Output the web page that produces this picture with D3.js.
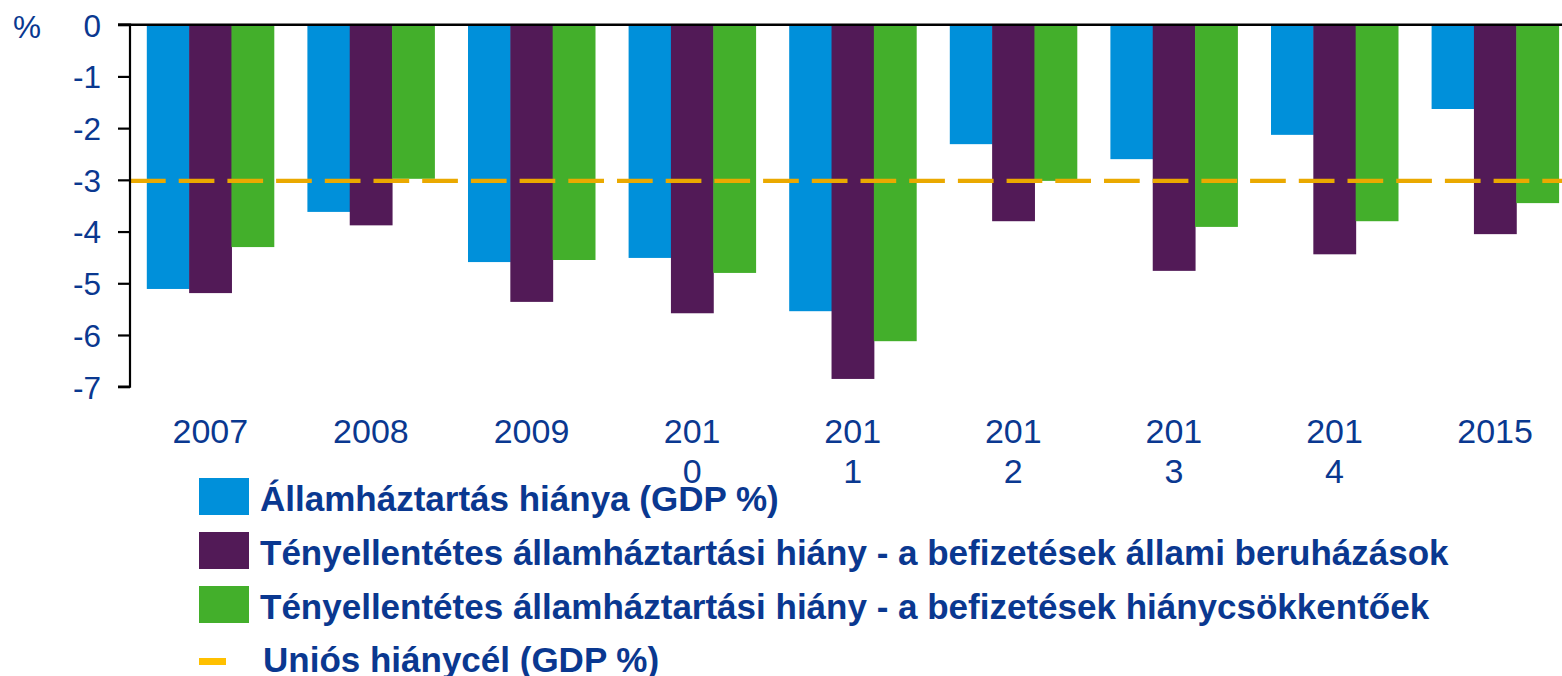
<!DOCTYPE html>
<html>
<head>
<meta charset="utf-8">
<script src="https://cdn.jsdelivr.net/npm/d3@7"></script>
<style>
  html, body { margin: 0; padding: 0; background: #fff; }
  svg { display: block; font-family: "Liberation Sans", Arial, sans-serif; }
</style>
</head>
<body>
<svg id="chart" width="1562" height="676"></svg>
<script>
// ---- data ----
const years = ["2007", "2008", "2009", "2010", "2011", "2012", "2013", "2014", "2015"];
const tickLabelLines = [["2007"], ["2008"], ["2009"], ["201", "0"], ["201", "1"], ["201", "2"], ["201", "3"], ["201", "4"], ["2015"]];
const deficit = [-5.11, -3.62, -4.59, -4.51, -5.54, -2.31, -2.60, -2.13, -1.63];
const counterInvest = [-5.19, -3.88, -5.36, -5.58, -6.85, -3.80, -4.76, -4.44, -4.05];
const counterReduce = [-4.30, -2.98, -4.55, -4.80, -6.12, -3.02, -3.91, -3.80, -3.45];
const euTarget = -3;
const yTicks = [0, -1, -2, -3, -4, -5, -6, -7];
const seriesNames = [
  "Államháztartás hiánya (GDP %)",
  "Tényellentétes államháztartási hiány - a befizetések állami beruházások",
  "Tényellentétes államháztartási hiány - a befizetések hiánycsökkentőek"
];
const targetName = "Uniós hiánycél (GDP %)";
const unitLabel = "%";

// ---- styles ----
const colors = ["#0090DA", "#521A57", "#43AF2B"];
const targetColor = "#EAA900";
const legendTargetColor = "#FFC000";
const textColor = "#0A3890";

const svg = d3.select("#chart");
const x0 = 130, x1 = 1575.4, yTop = 24.7, yBot = 386.7;

const x = d3.scaleBand().domain(years).range([x0, x1]).paddingInner(0).paddingOuter(0);
const groupW = 127;
const series = [deficit, counterInvest, counterReduce];
const xs = d3.scaleBand().domain(d3.range(series.length)).range([0, groupW]);
const y = d3.scaleLinear().domain([0, -7]).range([yTop, yBot]);

// bars
series.forEach((vals, si) => {
  svg.append("g").selectAll("rect").data(vals).join("rect")
    .attr("x", (d, i) => x(years[i]) + (x.bandwidth() - groupW) / 2 + xs(si))
    .attr("y", y(0))
    .attr("width", xs.bandwidth() + 0.5)
    .attr("height", d => y(d) - y(0))
    .attr("fill", colors[si]);
});

// target dashed line
svg.append("line")
  .attr("x1", x0).attr("x2", 1562)
  .attr("y1", y(euTarget) + 1).attr("y2", y(euTarget) + 1)
  .attr("stroke", targetColor).attr("stroke-width", 4.3)
  .attr("stroke-dasharray", "35.7 13");

// y axis
const yAxis = d3.axisLeft(y).tickValues(yTicks).tickSize(12).tickPadding(17).tickFormat(d => String(d));
const gy = svg.append("g").attr("transform", `translate(${x0},0)`).call(yAxis);
gy.select(".domain").attr("stroke", "#000").attr("stroke-width", 2.2).attr("d", `M-12,${y(0)}H0V${y(-7)}H-12`);
gy.selectAll(".tick line").attr("stroke", "#000").attr("stroke-width", 2.2);
gy.selectAll(".tick text").attr("fill", textColor).attr("font-size", 31.5).attr("dy", "0.36em")
  .attr("font-family", "Liberation Sans, Arial, sans-serif");

// zero line across
svg.append("line").attr("x1", x0 - 12).attr("x2", 1562).attr("y1", y(0)).attr("y2", y(0))
  .attr("stroke", "#000").attr("stroke-width", 2.4);

// unit label
svg.append("text").attr("x", 13).attr("y", 38).attr("fill", textColor)
  .attr("font-size", 31.5).text(unitLabel);

// x axis labels (wrapped)
const xAxis = d3.axisBottom(x).tickSize(0).tickFormat(() => "");
const gx = svg.append("g").attr("transform", `translate(0,${yBot})`).call(xAxis);
gx.select(".domain").remove();
gx.selectAll(".tick text").each(function (d, i) {
  const t = d3.select(this).attr("fill", textColor).attr("font-size", 34).attr("y", 0).attr("dy", null);
  tickLabelLines[i].forEach((ln, k) => {
    t.append("tspan").attr("x", 0).attr("y", 56.5 + k * 40).text(ln);
  });
});

// legend
const lg = svg.append("g");
const legendY = [478, 532, 586];
seriesNames.forEach((name, i) => {
  lg.append("rect").attr("x", 199).attr("y", legendY[i]).attr("width", 50).attr("height", 37).attr("fill", colors[i]);
  lg.append("text").attr("x", 260).attr("y", legendY[i] + 33).attr("fill", textColor)
    .attr("font-size", 35).attr("font-weight", "bold").text(name);
});
lg.append("rect").attr("x", 199).attr("y", 658).attr("width", 27).attr("height", 7).attr("fill", legendTargetColor);
lg.append("text").attr("x", 263).attr("y", 672).attr("fill", textColor)
  .attr("font-size", 35).attr("font-weight", "bold").text(targetName);
</script>
</body>
</html>
